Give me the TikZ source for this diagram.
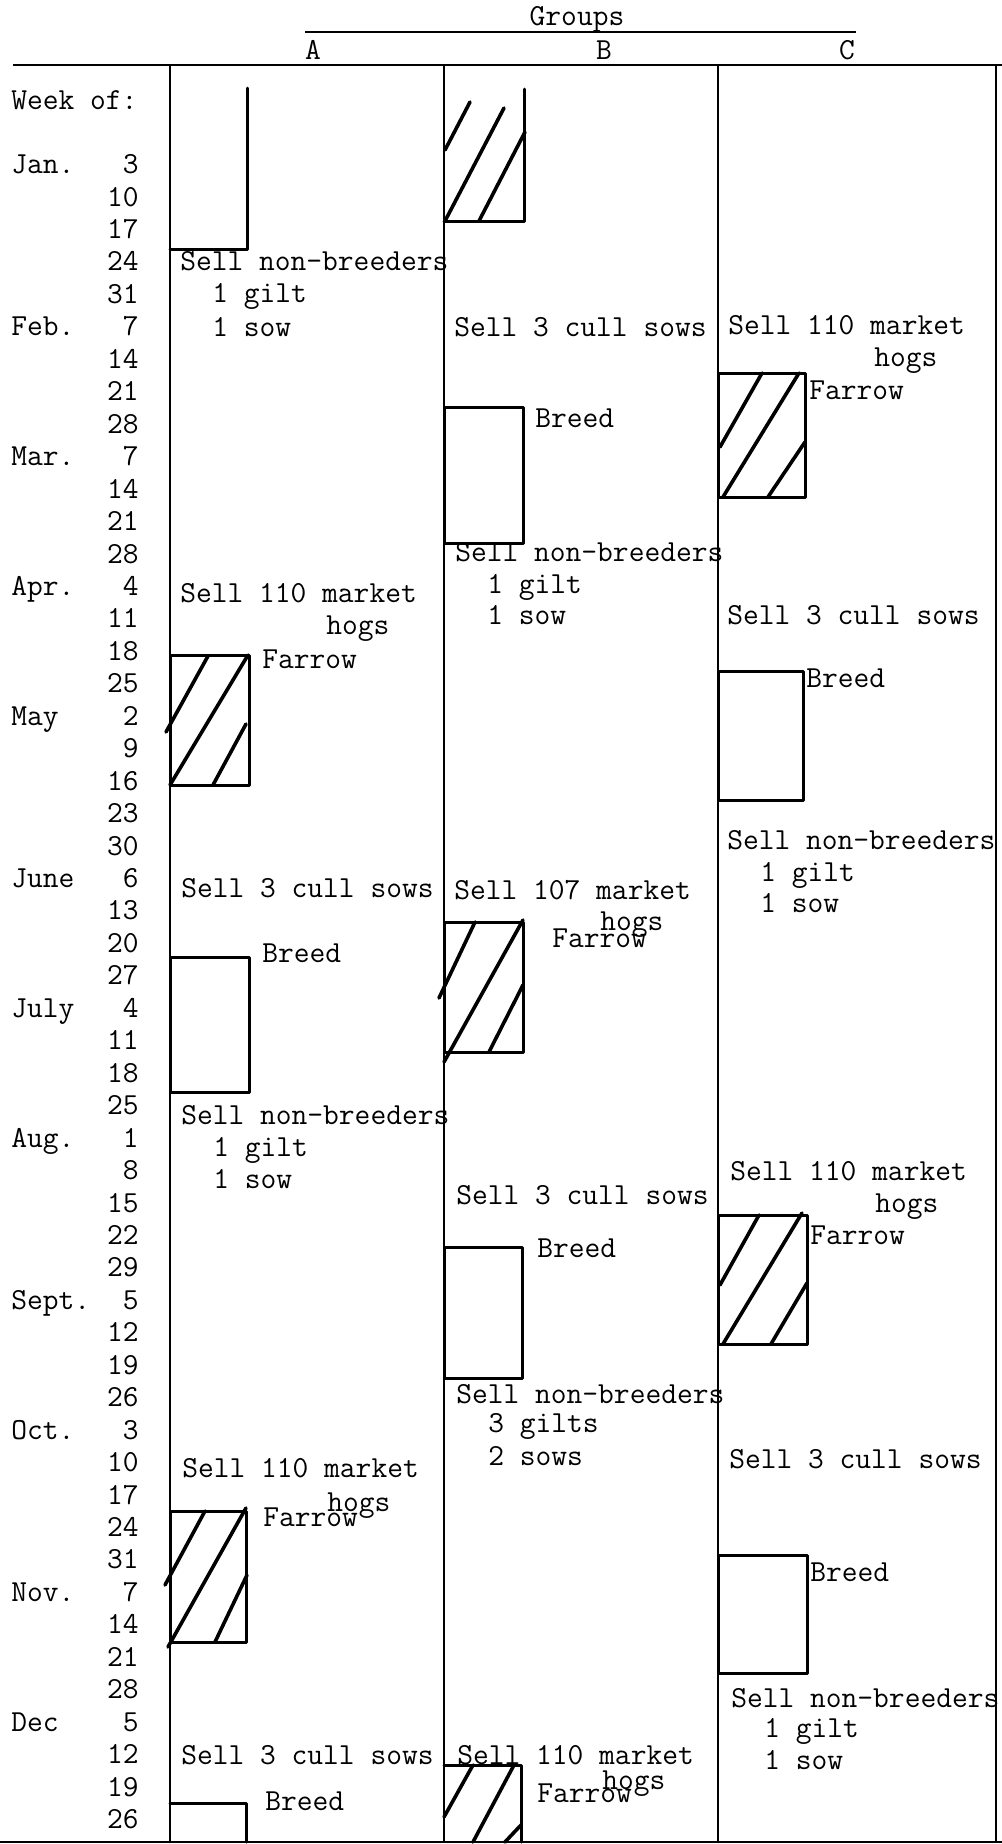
\documentclass[tikz,border=0pt]{standalone}
\usepackage{fontspec}
\begin{document}
\begin{tikzpicture}[x=0.5pt,y=-0.5pt,
  txt/.style={anchor=base west,inner sep=0pt,font=\fontsize{15.3}{18}\ttfamily},
  ctr/.style={anchor=base,inner sep=0pt,font=\fontsize{15.3}{18}\ttfamily},
  num/.style={anchor=base east,inner sep=0pt,font=\fontsize{15.3}{18}\ttfamily},
  colline/.style={line width=1pt},
  boxline/.style={line width=1.5pt,line cap=round,line join=round},
  hatch/.style={line width=1.8pt,line cap=round}]
\useasboundingbox (0,0) rectangle (1002,1844);
% header
\node[ctr] (groups) at (577,25) {Groups};
\coordinate (gl) at (305,32); \coordinate (gr) at (856,32);
\draw[colline] (gl) -- (gr);
\node[ctr] (hA) at (313,59) {A};
\node[ctr] (hB) at (604,59) {B};
\node[ctr] (hC) at (847,59) {C};
% frame
\coordinate (tl) at (13,65); \coordinate (tr) at (1002,65);
\coordinate (bl) at (0,1842); \coordinate (br) at (1002,1842);
\draw[line width=1.4pt] (tl) -- (tr);
\draw[line width=1.4pt] (bl) -- (br);
\foreach \cx/\nm in {170/A,444/B,718/C,996/R}{
  \coordinate (top\nm) at (\cx,65); \coordinate (bot\nm) at (\cx,1842);
  \draw[colline] (top\nm) -- (bot\nm);
}
% week labels
\node[txt] (weekof) at (11,109) {Week of:};
\foreach \d [count=\i from 0] in {3,10,17,24,31,7,14,21,28,7,14,21,28,4,11,18,25,2,9,16,23,30,6,13,20,27,4,11,18,25,1,8,15,22,29,5,12,19,26,3,10,17,24,31,7,14,21,28,5,12,19,26}{
  \node[num] (w\i) at (139,{173.6+32.45*\i}) {\d};
}
\foreach \m/\i in {Jan./0,Feb./5,Mar./9,Apr./13,May/17,June/22,July/26,Aug./30,Sept./35,Oct./39,Nov./44,Dec/48}{
  \node[txt] (m\i) at (11,{173.6+32.45*\i}) {\m};
}
% ---------- Column A ----------
\draw[boxline] (247,88) -- (247,249) -- (170,249);
\node[txt] (nA1) at (180,270) {Sell non-breeders};
\node[txt] (nA2) at (212,302) {1 gilt};
\node[txt] (nA3) at (212,336) {1 sow};
\node[txt] (mA1) at (180,602) {Sell 110 market};
\node[txt] (mA1h) at (326,634) {hogs};
\draw[boxline] (170,655) rectangle (249,785);
\draw[hatch] (166,732) -- (208,656);
\draw[hatch] (170,785) -- (248,655);
\draw[hatch] (213,785) -- (246,724);
\node[txt] (fA1) at (262,668) {Farrow};
\node[txt] (cA1) at (181,897) {Sell 3 cull sows};
\draw[boxline] (170,957) rectangle (249,1092);
\node[txt] (bA1) at (262,962) {Breed};
\node[txt] (nA4) at (181,1124) {Sell non-breeders};
\node[txt] (nA5) at (213,1156) {1 gilt};
\node[txt] (nA6) at (213,1188) {1 sow};
\node[txt] (mA2) at (182,1477) {Sell 110 market};
\node[txt] (mA2h) at (327,1511) {hogs};
\draw[boxline] (170,1511) rectangle (246,1642);
\draw[hatch] (165,1585) -- (205,1511);
\draw[hatch] (168,1647) -- (246,1508);
\draw[hatch] (215,1642) -- (247,1575);
\node[txt] (fA2) at (263,1526) {Farrow};
\node[txt] (cA2) at (181,1764) {Sell 3 cull sows};
\draw[boxline] (170,1803) -- (246,1803) -- (246,1842);
\node[txt] (bA2) at (265,1810) {Breed};
% ---------- Column B ----------
\draw[boxline] (524,89) -- (524,221) -- (444,221);
\draw[hatch] (445,150) -- (470,102);
\draw[hatch] (445,221) -- (504,108);
\draw[hatch] (479,221) -- (525,132);
\node[txt] (cB1) at (454,336) {Sell 3 cull sows};
\draw[boxline] (444,407) rectangle (523,543);
\node[txt] (bB1) at (535,427) {Breed};
\node[txt] (nB1) at (455,561) {Sell non-breeders};
\node[txt] (nB2) at (487,593) {1 gilt};
\node[txt] (nB3) at (487,624) {1 sow};
\node[txt] (mB1) at (454,899) {Sell 107 market};
\node[txt] (mB1h) at (600,930) {hogs};
\draw[boxline] (444,922) rectangle (523,1052);
\draw[hatch] (439,998) -- (475,922);
\draw[hatch] (444,1062) -- (523,920);
\draw[hatch] (489,1052) -- (523,985);
\node[txt] (fB1) at (552,947) {Farrow};
\node[txt] (cB2) at (456,1204) {Sell 3 cull sows};
\draw[boxline] (444,1247) rectangle (522,1378);
\node[txt] (bB2) at (537,1257) {Breed};
\node[txt] (nB4) at (456,1403) {Sell non-breeders};
\node[txt] (nB5) at (488,1432) {3 gilts};
\node[txt] (nB6) at (488,1465) {2 sows};
\node[txt] (mB2) at (457,1764) {Sell 110 market};
\node[txt] (mB2h) at (602,1789) {hogs};
\draw[boxline] (444,1765) -- (521,1765) -- (521,1842);
\draw[hatch] (444,1817) -- (473,1765);
\draw[hatch] (473,1842) -- (514,1765);
\draw[hatch] (505,1842) -- (521,1825);
\node[txt] (fB2) at (537,1802) {Farrow};
% ---------- Column C ----------
\node[txt] (mC1) at (728,334) {Sell 110 market};
\node[txt] (mC1h) at (874,366) {hogs};
\draw[boxline] (718,373) rectangle (805,497);
\draw[hatch] (720,447) -- (762,373);
\draw[hatch] (723,497) -- (799,373);
\draw[hatch] (768,497) -- (805,442);
\node[txt] (fC1) at (809,399) {Farrow};
\node[txt] (cC1) at (727,624) {Sell 3 cull sows};
\draw[boxline] (718,671) rectangle (803,800);
\node[txt] (bC1) at (806,687) {Breed};
\node[txt] (nC1) at (727,849) {Sell non-breeders};
\node[txt] (nC2) at (760,881) {1 gilt};
\node[txt] (nC3) at (760,912) {1 sow};
\node[txt] (mC2) at (730,1180) {Sell 110 market};
\node[txt] (mC2h) at (875,1212) {hogs};
\draw[boxline] (718,1215) rectangle (807,1344);
\draw[hatch] (720,1285) -- (759,1215);
\draw[hatch] (723,1344) -- (802,1213);
\draw[hatch] (771,1344) -- (807,1283);
\node[txt] (fC2) at (810,1244) {Farrow};
\node[txt] (cC2) at (729,1468) {Sell 3 cull sows};
\draw[boxline] (718,1555) rectangle (807,1673);
\node[txt] (bC2) at (810,1581) {Breed};
\node[txt] (nC4) at (731,1707) {Sell non-breeders};
\node[txt] (nC5) at (764,1737) {1 gilt};
\node[txt] (nC6) at (764,1769) {1 sow};
\end{tikzpicture}
\end{document}
